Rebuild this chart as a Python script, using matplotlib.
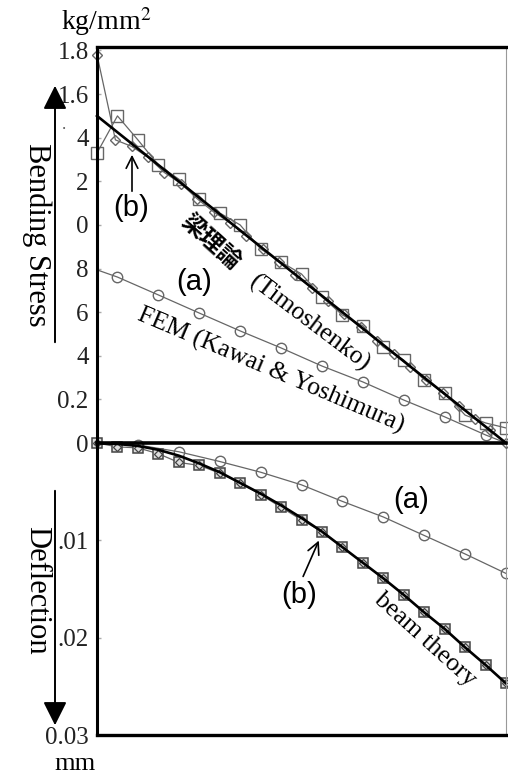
import matplotlib
matplotlib.use("Agg")
import matplotlib.pyplot as plt
from matplotlib.patches import FancyArrowPatch

plt.rcParams['mathtext.fontset'] = 'stix'

# ---------------- data ----------------
# upper panel: bending stress (kg/mm^2) along the beam (x in element units 0..10)
beam_stress_x = [0, 10]
beam_stress = [1.50, 0.0]

fem_a_stress_x = [0, 0.5, 1.5, 2.5, 3.5, 4.5, 5.5, 6.5, 7.5, 8.5, 9.5, 10]
fem_a_stress = [0.794, 0.761, 0.679, 0.596, 0.514, 0.436, 0.353, 0.280, 0.197, 0.120, 0.037, 0.0]

fem_b_sq_x = [0, 0.5, 1.0, 1.5, 2.0, 2.5, 3.0, 3.5, 4.0, 4.5, 5.0, 5.5, 6.0, 6.5, 7.0,
              7.5, 8.0, 8.5, 9.0, 9.5, 10.0]
fem_b_sq = [1.33, 1.50, 1.39, 1.275, 1.21, 1.12, 1.055, 1.00, 0.89, 0.83, 0.775, 0.67,
            0.587, 0.537, 0.44, 0.38, 0.29, 0.23, 0.128, 0.092, 0.069]

fem_b_di_x = [0, 0.45, 0.85, 1.25, 1.65, 2.05, 2.45, 2.85, 3.25, 3.65, 4.05, 4.45, 4.85,
              5.25, 5.65, 6.05, 6.45, 6.85, 7.25, 7.65, 8.05, 8.45, 8.85, 9.25, 9.6, 10.0]
fem_b_di = [1.78, 1.39, 1.36, 1.31, 1.24, 1.19, 1.12, 1.06, 1.01, 0.95, 0.89, 0.83, 0.77,
            0.71, 0.65, 0.59, 0.53, 0.47, 0.41, 0.35, 0.29, 0.23, 0.17, 0.11, 0.06, 0.0]

stress_ticks = [0, 0.2, 0.4, 0.6, 0.8, 1.0, 1.2, 1.4, 1.6, 1.8]
stress_ticklabels = ['0', '0.2', '4', '6', '8', '0', '2', '4', '1.6', '1.8']

# lower panel: deflection (mm)
defl_x = [0, 0.5, 1.0, 1.5, 2.0, 2.5, 3.0, 3.5, 4.0, 4.5, 5.0, 5.5, 6.0, 6.5, 7.0,
          7.5, 8.0, 8.5, 9.0, 9.5, 10.0]
beam_defl = [0, 0.0001, 0.0003, 0.0007, 0.0013, 0.0021, 0.0030, 0.0041, 0.0052, 0.0064,
             0.0077, 0.0091, 0.0107, 0.0123, 0.0139, 0.0156, 0.0174, 0.0191, 0.0210,
             0.0228, 0.0247]
fem_b_defl = [0, 0.0004, 0.0005, 0.0011, 0.0020, 0.0023, 0.0031, 0.0041, 0.0053, 0.0066,
              0.0079, 0.0091, 0.0107, 0.0123, 0.0139, 0.0156, 0.0174, 0.0191, 0.0210,
              0.0228, 0.0247]

fem_a_defl_x = [0, 1, 2, 3, 4, 5, 6, 7, 8, 9, 10]
fem_a_defl = [0, 0.0002, 0.0009, 0.0019, 0.0030, 0.0043, 0.0060, 0.0076, 0.0095,
              0.0114, 0.0134]

defl_ticks = [0.01, 0.02, 0.03]
defl_ticklabels = ['.01', '.02', '0.03']

# ---------------- figure ----------------
W, H = 508, 780
fig = plt.figure(figsize=(W / 100, H / 100), dpi=100)


def rect(l, t, r, b):
    return [l / W, 1 - b / H, (r - l) / W, (b - t) / H]


def fx(px):
    return px / W


def fy(py):
    return 1 - py / H


serif = 'Liberation Serif'
sans = 'Liberation Sans'
gray = '#666666'

ax2 = fig.add_axes(rect(97, 443, 506, 735))
ax1 = fig.add_axes(rect(97, 47, 506, 443))
ax1.patch.set_visible(False)
ax2.patch.set_visible(False)

for ax in (ax1, ax2):
    ax.set_xlim(0, 10)
    ax.set_xticks([])
    ax.tick_params(axis='y', direction='in', length=3, width=1, color='#aaaaaa', pad=6,
                   labelsize=18)
    ax.spines['left'].set_linewidth(2.2)
    ax.spines['right'].set_linewidth(0.8)
    ax.spines['right'].set_color('#999999')

ax1.set_ylim(0, 1.816)
ax1.spines['top'].set_linewidth(2.4)
ax1.spines['bottom'].set_linewidth(2.6)
ax1.set_yticks(stress_ticks)
ax1.set_yticklabels(stress_ticklabels, fontfamily=serif, fontsize=18, color='#222222')

ax2.set_ylim(0.03, 0)
ax2.spines['top'].set_visible(False)
ax2.spines['bottom'].set_linewidth(2.4)
ax2.set_yticks(defl_ticks)
ax2.set_yticklabels(defl_ticklabels, fontfamily=serif, fontsize=18, color='#222222')

# upper panel series
ax1.plot(fem_a_stress_x, fem_a_stress, color=gray, lw=0.9, marker='o', ms=7.5,
         mfc='none', mec=gray, mew=1.0, markevery=list(range(1, 11)), clip_on=False)
ax1.plot(fem_b_sq_x, fem_b_sq, color=gray, lw=0.9, marker='s', ms=8.5,
         mfc='none', mec=gray, mew=1.0, clip_on=False)
ax1.plot(fem_b_di_x, fem_b_di, color=gray, lw=0.9, marker='D', ms=5.5,
         mfc='none', mec=gray, mew=1.0, clip_on=False)
ax1.plot(beam_stress_x, beam_stress, color='black', lw=1.9, clip_on=False)

# lower panel series
ax2.plot(fem_a_defl_x, fem_a_defl, color=gray, lw=0.9, marker='o', ms=7.5,
         mfc='none', mec=gray, mew=1.0, markevery=list(range(1, 11)), clip_on=False)
ax2.plot(defl_x, fem_b_defl, color=gray, lw=0.9, marker='s', ms=6.5,
         mfc='#dddddd', mec='#444444', mew=1.1, clip_on=False)
ax2.plot(defl_x, fem_b_defl, ls='none', marker='D', ms=4,
         mfc='none', mec='#444444', mew=0.9, clip_on=False)
ax2.plot(defl_x, beam_defl, color='black', lw=1.9, clip_on=False)

# ---------------- text ----------------
fig.text(fx(106), fy(22), r'kg/mm$^{2}$', ha='center', va='center', fontsize=20,
         fontfamily=serif)
fig.text(fx(75), fy(764), 'mm', ha='center', va='center', fontsize=19, fontfamily=serif)
fig.text(fx(64), fy(125), '.', ha='center', va='center', fontsize=12, fontfamily=serif,
         color='#555555')

fig.text(fx(37), fy(235), 'Bending Stress', rotation=-90, ha='center', va='center',
         fontsize=22, fontfamily=serif)
fig.text(fx(37), fy(590), 'Deflection', rotation=-90, ha='center', va='center',
         fontsize=22, fontfamily=serif)

# y-direction arrows
fig.patches.append(FancyArrowPatch((fx(55), fy(345)), (fx(55), fy(83)),
                                   transform=fig.transFigure,
                                   arrowstyle='-|>,head_length=1.0,head_width=0.5',
                                   mutation_scale=14.4, lw=1.4, color='black'))
fig.patches.append(FancyArrowPatch((fx(55), fy(488)), (fx(55), fy(728)),
                                   transform=fig.transFigure,
                                   arrowstyle='-|>,head_length=1.0,head_width=0.5',
                                   mutation_scale=14.4, lw=1.4, color='black'))

# annotations upper
fig.text(fx(131), fy(208), '(b)', ha='center', va='center', fontsize=21, fontfamily=sans)
fig.patches.append(FancyArrowPatch((fx(132), fy(194)), (fx(132), fy(152)),
                                   transform=fig.transFigure,
                                   arrowstyle='->,head_length=0.6,head_width=0.3',
                                   mutation_scale=14, lw=1.2, color='black'))
fig.text(fx(194), fy(282), '(a)', ha='center', va='center', fontsize=21, fontfamily=sans)
fig.text(fx(211), fy(242), '梁理論', rotation=-42, rotation_mode='anchor', ha='center',
         va='center', fontsize=17, fontweight='bold', fontfamily='Noto Sans CJK JP')
fig.text(fx(310), fy(323), '(Timoshenko)', rotation=-37, rotation_mode='anchor',
         ha='center', va='center', fontsize=18.5, fontfamily=serif)
fig.text(fx(271), fy(371), 'FEM (Kawai & Yoshimura)', rotation=-23, rotation_mode='anchor',
         ha='center', va='center', fontsize=18.5, fontfamily=serif)

# annotations lower
fig.text(fx(411), fy(500), '(a)', ha='center', va='center', fontsize=21, fontfamily=sans)
fig.text(fx(299), fy(595), '(b)', ha='center', va='center', fontsize=21, fontfamily=sans)
fig.patches.append(FancyArrowPatch((fx(302), fy(579)), (fx(320), fy(538)),
                                   transform=fig.transFigure,
                                   arrowstyle='->,head_length=0.6,head_width=0.3',
                                   mutation_scale=14, lw=1.2, color='black'))
fig.text(fx(425), fy(640), 'beam theory', rotation=-42, rotation_mode='anchor',
         ha='center', va='center', fontsize=18.5, fontfamily=serif)

fig.savefig('out.png', dpi=100)
